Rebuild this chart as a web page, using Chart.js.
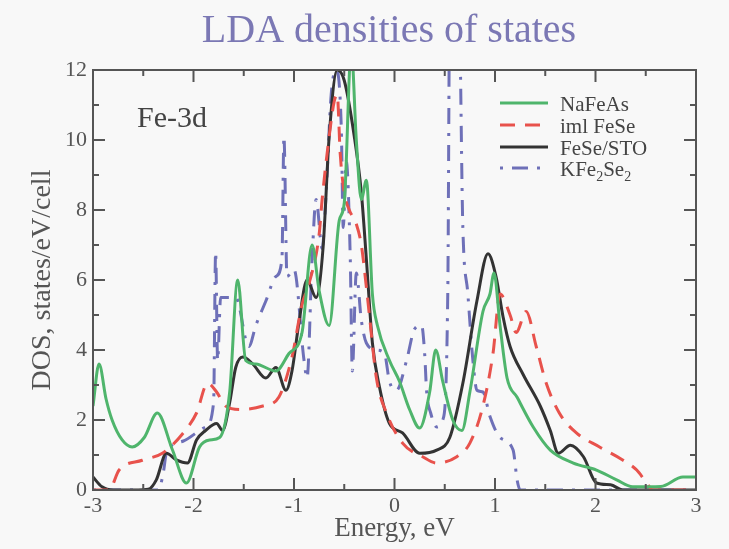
<!DOCTYPE html>
<html>
<head>
<meta charset="utf-8">
<title>LDA densities of states</title>
<script src="https://cdn.jsdelivr.net/npm/chart.js@4.4.0/dist/chart.umd.min.js"></script>
<style>
  html, body { margin: 0; padding: 0; background: #f8f8f8; }
</style>
</head>
<body>
<canvas id="myChart" width="729" height="549"></canvas>
<script>
// NaFeAs (green)
var naFeAsE = [-3.0, -2.94, -2.87, -2.81, -2.71, -2.61, -2.49, -2.36, -2.21, -2.07, -1.94, -1.84, -1.74, -1.64, -1.56, -1.48, -1.38, -1.18, -1.05, -0.92, -0.82, -0.75, -0.65, -0.55, -0.5, -0.43, -0.38, -0.33, -0.28, -0.22, -0.17, -0.05, 0.05, 0.15, 0.25, 0.35, 0.41, 0.48, 0.58, 0.67, 0.75, 0.88, 0.95, 0.99, 1.05, 1.12, 1.22, 1.38, 1.55, 1.78, 2.01, 2.21, 2.37, 2.65, 2.87, 3.0]
var naFeAsDos = [2.4, 3.6, 2.6, 2.0, 1.43, 1.23, 1.5, 2.2, 1.15, 0.2, 1.23, 1.43, 1.5, 2.8, 6.0, 3.7, 3.6, 3.4, 3.9, 4.5, 7.0, 5.7, 4.7, 7.7, 8.2, 12.6, 10.0, 8.3, 8.85, 5.6, 4.7, 3.7, 3.1, 2.3, 1.77, 2.8, 4.0, 3.1, 2.0, 1.7, 2.8, 5.1, 5.6, 6.2, 4.7, 3.2, 2.65, 1.8, 1.14, 0.77, 0.57, 0.29, 0.09, 0.1, 0.37, 0.37]

// iml FeSe (red dashed)
var imlE = [-3.0, -2.84, -2.74, -2.51, -2.31, -2.11, -1.97, -1.86, -1.77, -1.68, -1.54, -1.31, -1.15, -1.02, -0.92, -0.85, -0.75, -0.72, -0.65, -0.6, -0.57, -0.54, -0.5, -0.45, -0.38, -0.33, -0.28, -0.25, -0.18, -0.08, 0.08, 0.28, 0.42, 0.62, 0.75, 0.88, 0.98, 1.05, 1.15, 1.21, 1.31, 1.41, 1.51, 1.64, 1.81, 2.04, 2.27, 2.41, 2.51, 2.57, 3.0]
var imlDos = [0, 0, 0.57, 0.85, 1.05, 1.6, 2.2, 3.05, 2.8, 2.4, 2.3, 2.4, 2.66, 3.8, 5.3, 5.9, 7.3, 8.3, 10.1, 11.1, 11.3, 9.6, 8.5, 8.0, 7.6, 7.0, 5.8, 5.0, 3.2, 2.2, 1.34, 0.95, 0.77, 0.95, 1.34, 2.4, 3.9, 5.6, 5.0, 4.5, 5.1, 4.1, 3.05, 2.2, 1.63, 1.23, 0.86, 0.57, 0.2, 0, 0]

// FeSe/STO (black)
var stoE = [-3.0, -2.91, -2.8, -2.55, -2.45, -2.37, -2.27, -2.17, -2.06, -1.97, -1.88, -1.77, -1.71, -1.64, -1.58, -1.51, -1.41, -1.28, -1.18, -1.08, -1.02, -0.95, -0.87, -0.78, -0.71, -0.65, -0.57, -0.5, -0.4, -0.33, -0.28, -0.22, -0.15, -0.05, 0.08, 0.25, 0.42, 0.55, 0.68, 0.82, 0.93, 1.01, 1.08, 1.15, 1.28, 1.45, 1.55, 1.63, 1.75, 1.88, 2.01, 2.15, 2.27, 3.0]
var stoDos = [0.37, 0.09, 0, 0, 0.02, 0.29, 1.05, 0.86, 0.77, 1.43, 1.7, 1.9, 1.7, 2.5, 3.5, 3.8, 3.6, 3.2, 3.5, 2.85, 3.4, 4.8, 6.0, 5.5, 6.95, 10.1, 12.0, 11.7, 10.1, 8.5, 6.6, 4.2, 2.95, 1.9, 1.63, 1.05, 1.14, 1.5, 3.05, 5.4, 6.75, 6.1, 4.95, 4.1, 3.3, 2.4, 1.7, 1.05, 1.28, 0.95, 0.2, 0.15, 0, 0]

// KFe2Se2 (blue dash-dot)
var kfeE = [-3.0, -2.35, -2.3, -2.27, -2.1, -1.88, -1.8, -1.78, -1.76, -1.73, -1.58, -1.45, -1.38, -1.28, -1.18, -1.12, -1.1, -1.07, -1.0, -0.9, -0.87, -0.82, -0.78, -0.72, -0.68, -0.63, -0.58, -0.53, -0.51, -0.48, -0.44, -0.42, -0.38, -0.33, -0.28, -0.18, -0.1, -0.05, 0.02, 0.12, 0.2, 0.27, 0.3, 0.32, 0.36, 0.42, 0.48, 0.53, 0.55, 0.64, 0.68, 0.73, 0.78, 0.82, 0.88, 0.95, 1.05, 1.18, 1.22, 1.25, 3.0]
var kfeDos = [0, 0, 0.5, 1.05, 1.4, 1.8, 2.5, 6.8, 3.7, 5.5, 5.5, 4.1, 4.7, 5.4, 6.1, 6.6, 10.1, 6.1, 6.3, 3.7, 3.2, 6.6, 8.3, 6.9, 8.5, 11.3, 12.0, 10.4, 7.5, 9.4, 6.6, 3.4, 6.2, 4.85, 4.2, 4.0, 3.9, 3.1, 2.85, 3.7, 4.6, 4.7, 3.9, 2.8, 2.2, 1.8, 2.0, 5.6, 14, 14, 7.5, 5.6, 3.7, 2.85, 2.8, 2.1, 1.5, 1.14, 0.29, 0, 0]

// ticks
var xMajor = [-3, -2, -1, 0, 1, 2, 3]
var xMinor = [-2.5, -1.5, -0.5, 0.5, 1.5, 2.5]
var yMajor = [0, 2, 4, 6, 8, 10, 12]
var yMinor = [1, 3, 5, 7, 9, 11]

var axisColor = '#555'
var serif = '"Liberation Serif", "Times New Roman", serif'

function pts(xs, ys) {
  var out = []
  for (var i = 0; i < xs.length; i++) out.push({ x: xs[i], y: ys[i] })
  return out
}

var series = [
  { label: 'NaFeAs', data: pts(naFeAsE, naFeAsDos), color: '#4fb56c', dash: [] },
  { label: 'iml FeSe', data: pts(imlE, imlDos), color: '#e8524c', dash: [15, 10] },
  { label: 'FeSe/STO', data: pts(stoE, stoDos), color: '#333333', dash: [] },
  { label: 'KFe2Se2', data: pts(kfeE, kfeDos), color: '#6e70b8', dash: [3, 9, 16, 9] }
]

// frame with inward ticks on all four sides
var framePlugin = {
  id: 'frame',
  afterDatasetsDraw: function(chart) {
    var ctx = chart.ctx
    var a = chart.chartArea
    var xs = chart.scales.x
    var ys = chart.scales.y
    ctx.save()
    ctx.strokeStyle = axisColor
    ctx.lineWidth = 2
    ctx.setLineDash([])
    ctx.strokeRect(a.left, a.top, a.right - a.left, a.bottom - a.top)
    function xt(v, len) {
      var p = xs.getPixelForValue(v)
      ctx.beginPath()
      ctx.moveTo(p, a.bottom); ctx.lineTo(p, a.bottom - len)
      ctx.moveTo(p, a.top); ctx.lineTo(p, a.top + len)
      ctx.stroke()
    }
    function yt(v, len) {
      var p = ys.getPixelForValue(v)
      ctx.beginPath()
      ctx.moveTo(a.left, p); ctx.lineTo(a.left + len, p)
      ctx.moveTo(a.right, p); ctx.lineTo(a.right - len, p)
      ctx.stroke()
    }
    xMajor.forEach(function(v) { xt(v, 12) })
    xMinor.forEach(function(v) { xt(v, 6) })
    yMajor.forEach(function(v) { yt(v, 12) })
    yMinor.forEach(function(v) { yt(v, 6) })
    ctx.restore()
  }
}

// title, Fe-3d label and legend
var textPlugin = {
  id: 'texts',
  afterDraw: function(chart) {
    var ctx = chart.ctx
    ctx.save()
    ctx.textBaseline = 'alphabetic'

    ctx.fillStyle = '#7b78b4'
    ctx.font = '40px ' + serif
    ctx.textAlign = 'center'
    ctx.fillText('LDA densities of states', 389, 42)

    ctx.fillStyle = '#444'
    ctx.font = '30px ' + serif
    ctx.textAlign = 'left'
    ctx.fillText('Fe-3d', 137, 127)

    var rows = [111, 133, 155, 176]
    series.forEach(function(s, i) {
      var y = rows[i] - 8
      ctx.strokeStyle = s.color
      ctx.lineWidth = 3
      ctx.setLineDash(s.dash)
      ctx.beginPath()
      ctx.moveTo(500, y); ctx.lineTo(548, y)
      ctx.stroke()
      ctx.setLineDash([])
      ctx.fillStyle = '#444'
      ctx.font = '21px ' + serif
      if (s.label === 'KFe2Se2') {
        var x = 560
        var parts = [['KFe', 0], ['2', 1], ['Se', 0], ['2', 1]]
        parts.forEach(function(p) {
          ctx.font = (p[1] ? '14px ' : '21px ') + serif
          ctx.fillText(p[0], x, rows[i] + (p[1] ? 5 : 0))
          x += ctx.measureText(p[0]).width
        })
      } else {
        ctx.fillText(s.label, 560, rows[i])
      }
    })
    ctx.restore()
  }
}

var ctx = document.getElementById('myChart').getContext('2d')
var chart = new Chart(ctx, {
  type: 'line',
  data: {
    datasets: series.map(function(s) {
      return {
        label: s.label,
        data: s.data,
        borderColor: s.color,
        backgroundColor: s.color,
        borderWidth: 3,
        borderDash: s.dash,
        pointRadius: 0,
        fill: false,
        cubicInterpolationMode: 'monotone'
      }
    })
  },
  options: {
    responsive: false,
    animation: false,
    layout: { padding: { top: 70, right: 33, left: 0, bottom: 0 } },
    plugins: {
      legend: { display: false },
      title: { display: false },
      tooltip: { enabled: false }
    },
    scales: {
      x: {
        type: 'linear',
        min: -3,
        max: 3,
        grid: { display: false, drawTicks: false },
        border: { display: false },
        ticks: {
          stepSize: 1,
          padding: 3,
          color: axisColor,
          font: { family: serif, size: 22 },
          maxRotation: 0
        },
        title: {
          display: true,
          text: 'Energy, eV',
          color: axisColor,
          font: { family: serif, size: 27 },
          padding: { top: 0, bottom: 4 }
        },
        afterFit: function(scale) { scale.height = 59 }
      },
      y: {
        min: 0,
        max: 12,
        grid: { display: false, drawTicks: false },
        border: { display: false },
        ticks: {
          stepSize: 2,
          padding: 6,
          color: axisColor,
          font: { family: serif, size: 22 }
        },
        title: {
          display: true,
          text: 'DOS, states/eV/cell',
          color: axisColor,
          font: { family: serif, size: 28 },
          padding: { top: 26, bottom: 0 }
        },
        afterFit: function(scale) { scale.width = 93 }
      }
    }
  },
  plugins: [framePlugin, textPlugin]
})
</script>
</body>
</html>
